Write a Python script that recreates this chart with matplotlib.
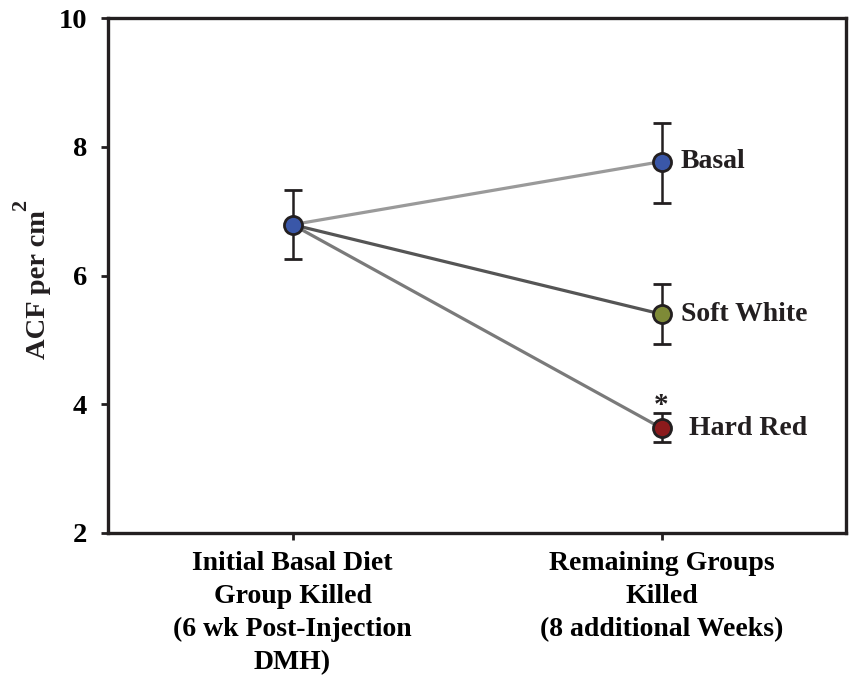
import matplotlib
matplotlib.use("Agg")
import matplotlib.pyplot as plt

plt.rcParams['font.family'] = ['Liberation Serif', 'DejaVu Serif']
plt.rcParams['font.weight'] = 'bold'

# time points
x_labels = ['Initial Basal Diet\nGroup Killed\n(6 wk Post-Injection\nDMH)',
            'Remaining Groups\nKilled\n(8 additional Weeks)']

# initial group (all on basal diet)
start_mean = 6.79
start_lo = 6.25
start_hi = 7.33

# diet groups at end
groups = ['Basal', 'Soft White', 'Hard Red']
end_mean = [7.77, 5.40, 3.63]
end_lo = [7.13, 4.93, 3.41]
end_hi = [8.37, 5.87, 3.86]
marker_cols = ['#3a57a8', '#7e8a37', '#8c1a1c']
line_cols = ['#9a9a9a', '#555555', '#7a7a7a']
label_dx = [14, 14, 20]

W, H = 849, 679
fig = plt.figure(figsize=(W/100, H/100), dpi=100)
ax = fig.add_axes([108/W, 1 - 533/H, (846-108)/W, (533-18)/H])

for i in range(len(groups)):
    ax.plot([0, 1], [start_mean, end_mean[i]], '-', color=line_cols[i], lw=2.3, zorder=1)

ax.errorbar([0], [start_mean], yerr=[[start_mean - start_lo], [start_hi - start_mean]],
            fmt='o', color='#231f20', ms=13, mfc=marker_cols[0], mec='#231f20', mew=2,
            elinewidth=1.8, capsize=6.5, capthick=1.8, zorder=3)

for i in range(len(groups)):
    ax.errorbar([1], [end_mean[i]], yerr=[[end_mean[i] - end_lo[i]], [end_hi[i] - end_mean[i]]],
                fmt='o', color='#231f20', ms=13, mfc=marker_cols[i], mec='#231f20', mew=2,
                elinewidth=1.8, capsize=6.5, capthick=1.8, zorder=3)
    ax.annotate(groups[i], (1, end_mean[i]), xytext=(label_dx[i], 0), textcoords='offset points',
                ha='left', va='center', fontsize=20, fontweight='bold', color='#231f20')

# significance mark on Hard Red
ax.annotate('*', (1, end_hi[2]), xytext=(0, -4), textcoords='offset points',
            ha='center', va='bottom', fontsize=21, fontweight='bold', color='#231f20')

ax.set_xlim(-0.5, 1.5)
ax.set_ylim(2, 10)
ax.set_xticks([0, 1])
ax.set_xticklabels(x_labels, fontsize=20, fontweight='bold', linespacing=1.41)
ax.set_yticks([2, 4, 6, 8, 10])
ax.set_yticklabels(['2', '4', '6', '8', '10'], fontsize=20.5, fontweight='bold')
ax.tick_params(axis='both', direction='out', length=5, width=2, color='#231f20')
ax.tick_params(axis='y', pad=10)
ax.tick_params(axis='x', pad=8)
for s in ax.spines.values():
    s.set_linewidth(2.4)
    s.set_color('#231f20')

# y axis title with a full-size superscript
fig.text(45/W, 1 - 359/H, 'ACF per cm', rotation=90, rotation_mode='anchor',
         ha='left', va='baseline', fontsize=20.5, fontweight='bold', color='#231f20')
fig.text(26/W, 1 - 211/H, '2', rotation=90, rotation_mode='anchor',
         ha='left', va='baseline', fontsize=16, fontweight='bold', color='#231f20')

fig.savefig('out.png', dpi=100)
